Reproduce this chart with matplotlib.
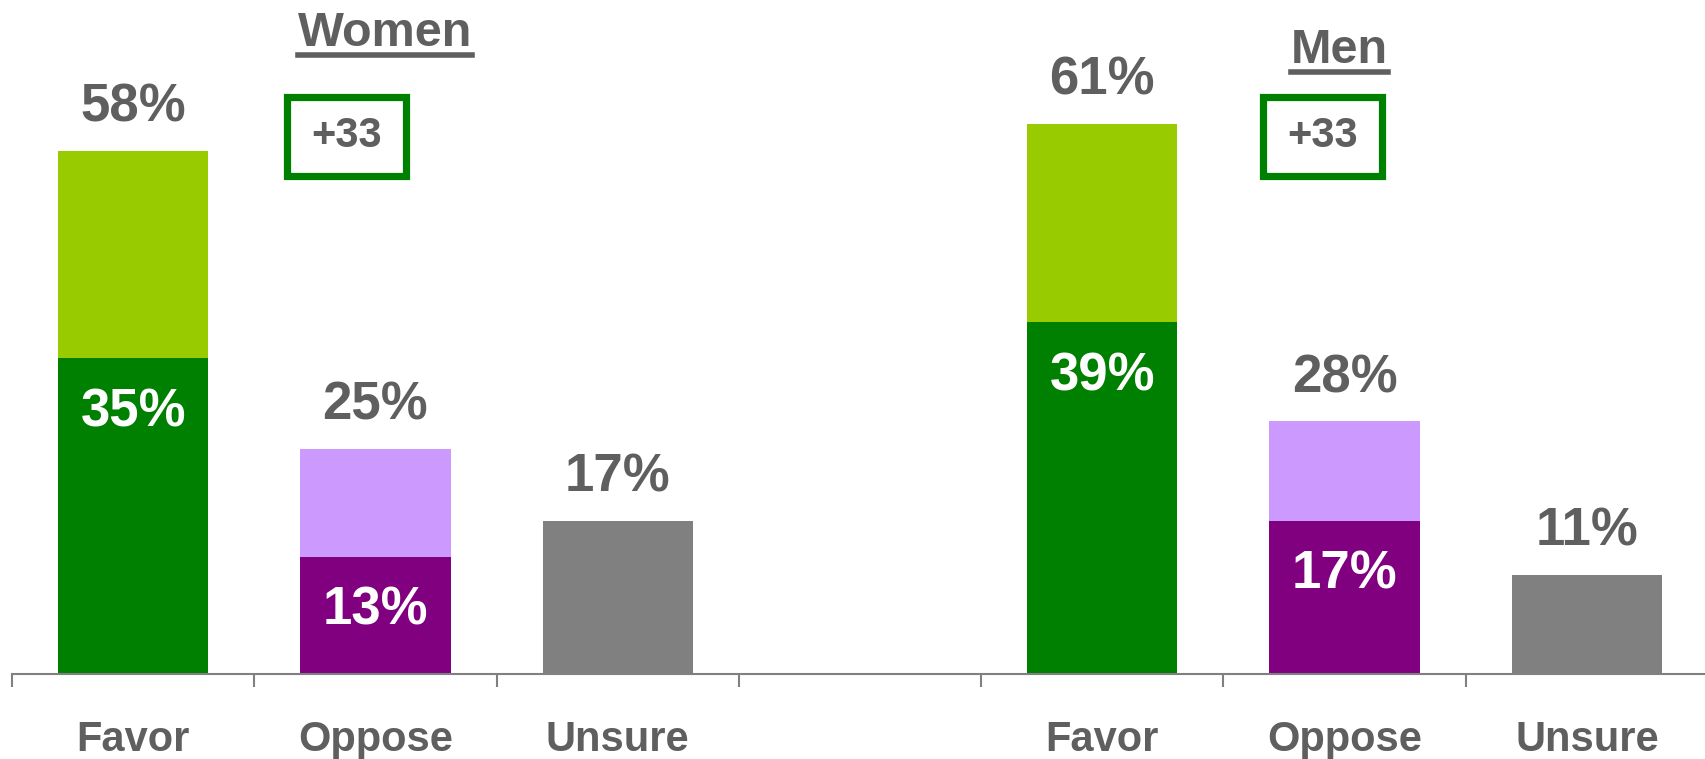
import matplotlib
matplotlib.use("Agg")
import matplotlib.pyplot as plt
from matplotlib.patches import Rectangle
from matplotlib.lines import Line2D

plt.rcParams['font.family'] = ['Liberation Sans', 'DejaVu Sans']
plt.rcParams['font.weight'] = 'bold'

# data
categories = ['Favor', 'Oppose', 'Unsure', '', 'Favor', 'Oppose', 'Unsure']
groups = ['Women', 'Men']
favor_total = [58, 61]
favor_strong = [35, 39]
oppose_total = [25, 28]
oppose_strong = [13, 17]
unsure = [17, 11]
margin_labels = ['+33', '+33']

dark_green = '#008000'
light_green = '#99CC00'
purple = '#800080'
light_purple = '#CC99FF'
grey_bar = '#808080'
text_grey = '#5F5F5F'

W, H = 1705, 759
fig = plt.figure(figsize=(W / 100, H / 100), dpi=100)
ax = fig.add_axes([12 / W, (H - 674) / H, 1696 / W, 674 / H])

bw = 0.62
out_off = 4.75  # label above bar
in_off = 6.0    # label inside dark segment
fs = 38

for g in range(2):
    x0 = g * 4
    xf, xo, xu = x0, x0 + 1, x0 + 2
    # favor stacked
    ax.bar(xf, favor_strong[g], bw, color=dark_green)
    ax.bar(xf, favor_total[g] - favor_strong[g], bw, bottom=favor_strong[g], color=light_green)
    # oppose stacked
    ax.bar(xo, oppose_strong[g], bw, color=purple)
    ax.bar(xo, oppose_total[g] - oppose_strong[g], bw, bottom=oppose_strong[g], color=light_purple)
    # unsure
    ax.bar(xu, unsure[g], bw, color=grey_bar)

    ax.text(xf, favor_total[g] + out_off, f"{favor_total[g]}%", ha='center', va='center',
            fontsize=fs, color=text_grey)
    ax.text(xf, favor_strong[g] - in_off, f"{favor_strong[g]}%", ha='center', va='center',
            fontsize=fs, color='white')
    ax.text(xo, oppose_total[g] + out_off, f"{oppose_total[g]}%", ha='center', va='center',
            fontsize=fs, color=text_grey)
    ax.text(xo, oppose_strong[g] - in_off, f"{oppose_strong[g]}%", ha='center', va='center',
            fontsize=fs, color='white')
    ax.text(xu, unsure[g] + out_off, f"{unsure[g]}%", ha='center', va='center',
            fontsize=fs, color=text_grey)

ax.set_xlim(-0.5, 6.5)
ax.set_ylim(0, 674 / 9.02)

for s in ['top', 'right', 'left']:
    ax.spines[s].set_visible(False)
ax.spines['bottom'].set_color('#808080')
ax.spines['bottom'].set_linewidth(1.5)
ax.set_yticks([])

ax.set_xticks(range(len(categories)))
ax.set_xticklabels(categories, fontsize=30, color=text_grey, fontweight='bold')
ax.tick_params(axis='x', which='major', length=0, pad=33)
ax.set_xticks([i - 0.5 for i in range(len(categories) + 1)], minor=True)
ax.tick_params(axis='x', which='minor', length=9.5, width=1.5, color='#808080')

# group titles (underlined) and margin boxes
title_pos = [(1.04, 71.0), (4.98, 69.1)]
box_pos = [(0.88, 59.6), (4.91, 59.6)]
titles = []
for g in range(2):
    t = ax.text(title_pos[g][0], title_pos[g][1], groups[g], ha='center', va='center',
                fontsize=35, color=text_grey)
    titles.append(t)
    bx, by = box_pos[g]
    bwid, bht = 119 / 242.3, 79 / 9.02
    ax.add_patch(Rectangle((bx - bwid / 2, by - bht / 2), bwid, bht, fill=False,
                           edgecolor=dark_green, linewidth=5.2, clip_on=False))
    ax.text(bx, by, margin_labels[g], ha='center', va='center', fontsize=30, color=text_grey)

fig.canvas.draw()
r = fig.canvas.get_renderer()
for t in titles:
    bb = t.get_window_extent(r)
    yline = bb.y0 + 1
    fig.add_artist(Line2D([bb.x0 / W, bb.x1 / W], [yline / H, yline / H],
                          transform=fig.transFigure, color=text_grey, linewidth=4))

fig.savefig('out.png', dpi=100)
